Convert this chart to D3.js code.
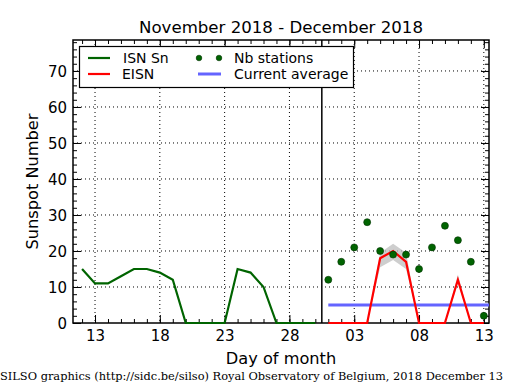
<!DOCTYPE html>
<html>
<head>
<meta charset="utf-8">
<script src="https://cdn.jsdelivr.net/npm/d3@7"></script>
<style>
body { margin: 0; background: #fff; }
text { font-family: "DejaVu Sans", sans-serif; fill: #000; }
.footer { font-family: "DejaVu Serif", serif; }
</style>
</head>
<body>
<svg id="chart" width="515" height="390"></svg>
<script>
// DATA (day index: days counted from Nov 1, so Dec 1 = 31)
var isnDays = [12,13,14,15,16,17,18,19,20,21,22,23,24,25,26,27,28,29,30];
var isnValues = [15,11,11,13,15,15,14,12,0,0,0,0,15,14,10,0,0,0,0];

var eisnDays = [31,32,33,34,35,36,37,38,39,40,41,42,43];
var eisnValues = [0,0,0,0,18,20,17,0,0,0,12,0,0];
var eisnLow = [0,0,0,0,15.5,17.5,15,0,0,0,11,0,0];
var eisnHigh = [0,0,0,0,19.5,22,19.5,0,0,0,13.5,0,0];

var stationValues = [12,17,21,28,20,19,19,15,21,27,23,17,2];

var currentAverage = 5;
var monthSplit = 30.5;

var xTickValues = [13,18,23,28,33,38,43];
var xTickLabels = ["13","18","23","28","03","08","13"];
var yTickValues = [0,10,20,30,40,50,60,70];

// DRAWING AREA
var pLeft = 73, pRight = 489, pTop = 40, pBottom = 323;

var svg = d3.select("#chart");

var x = d3.scaleLinear().domain([11.3, 43.4]).range([pLeft, pRight]);
var y = d3.scaleLinear().domain([0, 78.6]).range([pBottom, pTop]);

// GRID (dotted)
var grid = svg.append("g");
grid.selectAll("line.gx")
	.data(xTickValues)
	.enter()
	.append("line")
	.attr("x1", d => x(d)).attr("x2", d => x(d))
	.attr("y1", pTop).attr("y2", pBottom)
	.style("stroke", "#000").style("stroke-width", 1)
	.style("stroke-dasharray", "1,3");
grid.selectAll("line.gy")
	.data(yTickValues.slice(1))
	.enter()
	.append("line")
	.attr("x1", pLeft).attr("x2", pRight)
	.attr("y1", d => y(d)).attr("y2", d => y(d))
	.style("stroke", "#000").style("stroke-width", 1)
	.style("stroke-dasharray", "1,3");

// AXES (ticks inside, on all four sides)
var minorX = d3.range(12, 44);
var minorY = d3.range(0, 79, 2);

svg.append("g")
	.attr("transform", "translate(0," + pBottom + ")")
	.call(d3.axisTop(x).tickValues(minorX).tickSize(4).tickFormat(""))
	.call(g => g.select(".domain").remove());
svg.append("g")
	.attr("transform", "translate(0," + pTop + ")")
	.call(d3.axisBottom(x).tickValues(minorX).tickSize(4).tickFormat(""))
	.call(g => g.select(".domain").remove());
svg.append("g")
	.attr("transform", "translate(" + pLeft + ",0)")
	.call(d3.axisRight(y).tickValues(minorY).tickSize(4).tickFormat(""))
	.call(g => g.select(".domain").remove());
svg.append("g")
	.attr("transform", "translate(" + pRight + ",0)")
	.call(d3.axisLeft(y).tickValues(minorY).tickSize(4).tickFormat(""))
	.call(g => g.select(".domain").remove());

var xAxis = svg.append("g")
	.attr("transform", "translate(0," + pBottom + ")")
	.call(d3.axisTop(x).tickValues(xTickValues).tickSize(8)
		.tickFormat((d, i) => xTickLabels[i]));
xAxis.select(".domain").remove();
xAxis.selectAll("text")
	.attr("y", 7)
	.attr("dy", "0.71em")
	.style("font-size", "15px")
	.style("font-family", "DejaVu Sans");

var yAxis = svg.append("g")
	.attr("transform", "translate(" + pLeft + ",0)")
	.call(d3.axisRight(y).tickValues(yTickValues).tickSize(8));
yAxis.select(".domain").remove();
yAxis.selectAll("text")
	.attr("x", -6)
	.attr("dy", "0.35em")
	.style("text-anchor", "end")
	.style("font-size", "15px")
	.style("font-family", "DejaVu Sans");

svg.append("g")
	.attr("transform", "translate(0," + pTop + ")")
	.call(d3.axisBottom(x).tickValues(xTickValues).tickSize(8).tickFormat(""))
	.call(g => g.select(".domain").remove());
svg.append("g")
	.attr("transform", "translate(" + pRight + ",0)")
	.call(d3.axisLeft(y).tickValues(yTickValues).tickSize(8).tickFormat(""))
	.call(g => g.select(".domain").remove());

svg.selectAll(".tick line").style("stroke", "#000");

// FRAME
svg.append("rect")
	.attr("x", pLeft).attr("y", pTop)
	.attr("width", pRight - pLeft).attr("height", pBottom - pTop)
	.style("fill", "none").style("stroke", "#000").style("stroke-width", 1.5);

// UNCERTAINTY BAND
var band = d3.area()
	.x((d, i) => x(eisnDays[i]))
	.y0((d, i) => y(eisnLow[i]))
	.y1((d, i) => y(eisnHigh[i]));
svg.append("path")
	.datum(eisnValues)
	.attr("d", band)
	.style("fill", "#bdbdbd")
	.style("opacity", 0.75);

// CURRENT AVERAGE
svg.append("line")
	.attr("x1", x(eisnDays[0])).attr("x2", x(x.domain()[1]))
	.attr("y1", y(currentAverage)).attr("y2", y(currentAverage))
	.style("stroke", "#6464ff").style("stroke-width", 3);

// ISN LINE
var lineIsn = d3.line()
	.x((d, i) => x(isnDays[i]))
	.y(d => y(d));
svg.append("path")
	.datum(isnValues)
	.attr("d", lineIsn)
	.style("fill", "none")
	.style("stroke", "#006400")
	.style("stroke-width", 2.2);

// EISN LINE
var lineEisn = d3.line()
	.x((d, i) => x(eisnDays[i]))
	.y(d => y(d));
svg.append("path")
	.datum(eisnValues)
	.attr("d", lineEisn)
	.style("fill", "none")
	.style("stroke", "#ff0000")
	.style("stroke-width", 2.2);

// NB STATIONS
svg.selectAll("circle.st")
	.data(stationValues)
	.enter()
	.append("circle")
	.attr("class", "st")
	.attr("cx", (d, i) => x(eisnDays[i]))
	.attr("cy", d => y(d))
	.attr("r", 3.5)
	.style("fill", "#006400")
	.style("stroke", "#003000")
	.style("stroke-width", 0.6);

// MONTH SEPARATOR
svg.append("line")
	.attr("x1", x(monthSplit)).attr("x2", x(monthSplit))
	.attr("y1", pTop).attr("y2", pBottom)
	.style("stroke", "#000").style("stroke-width", 1.5);

// LEGEND
var legend = svg.append("g");
legend.append("rect")
	.attr("x", 79.5).attr("y", 46.5).attr("width", 274).attr("height", 41)
	.style("fill", "#fff").style("stroke", "#000").style("stroke-width", 1.2);
legend.append("line")
	.attr("x1", 88).attr("x2", 110).attr("y1", 58).attr("y2", 58)
	.style("stroke", "#006400").style("stroke-width", 2.2);
legend.append("line")
	.attr("x1", 88).attr("x2", 110).attr("y1", 74).attr("y2", 74)
	.style("stroke", "#ff0000").style("stroke-width", 2.2);
legend.selectAll("circle")
	.data([199, 219])
	.enter()
	.append("circle")
	.attr("cx", d => d).attr("cy", 58).attr("r", 2.8)
	.style("fill", "#006400").style("stroke", "#003000").style("stroke-width", 0.6);
legend.append("line")
	.attr("x1", 198).attr("x2", 221).attr("y1", 74).attr("y2", 74)
	.style("stroke", "#6464ff").style("stroke-width", 3);
var legendLabels = [["ISN Sn", 123, 63], ["EISN", 122, 79], ["Nb stations", 234, 63], ["Current average", 234, 79]];
legend.selectAll("text")
	.data(legendLabels)
	.enter()
	.append("text")
	.attr("x", d => d[1]).attr("y", d => d[2])
	.text(d => d[0])
	.style("font-size", "14px");

// TITLES
svg.append("text")
	.attr("x", 281).attr("y", 33)
	.style("text-anchor", "middle").style("font-size", "16.6px")
	.text("November 2018 - December 2018");
svg.append("text")
	.attr("transform", "translate(38," + ((pTop + pBottom) / 2) + ") rotate(-90)")
	.style("text-anchor", "middle").style("font-size", "16.2px")
	.text("Sunspot Number");
svg.append("text")
	.attr("x", 281).attr("y", 364)
	.style("text-anchor", "middle").style("font-size", "16.2px")
	.text("Day of month");
svg.append("text")
	.attr("class", "footer")
	.attr("x", 0).attr("y", 380)
	.style("font-size", "11.4px")
	.text("SILSO graphics (http://sidc.be/silso) Royal Observatory of Belgium, 2018 December 13");
</script>
</body>
</html>
